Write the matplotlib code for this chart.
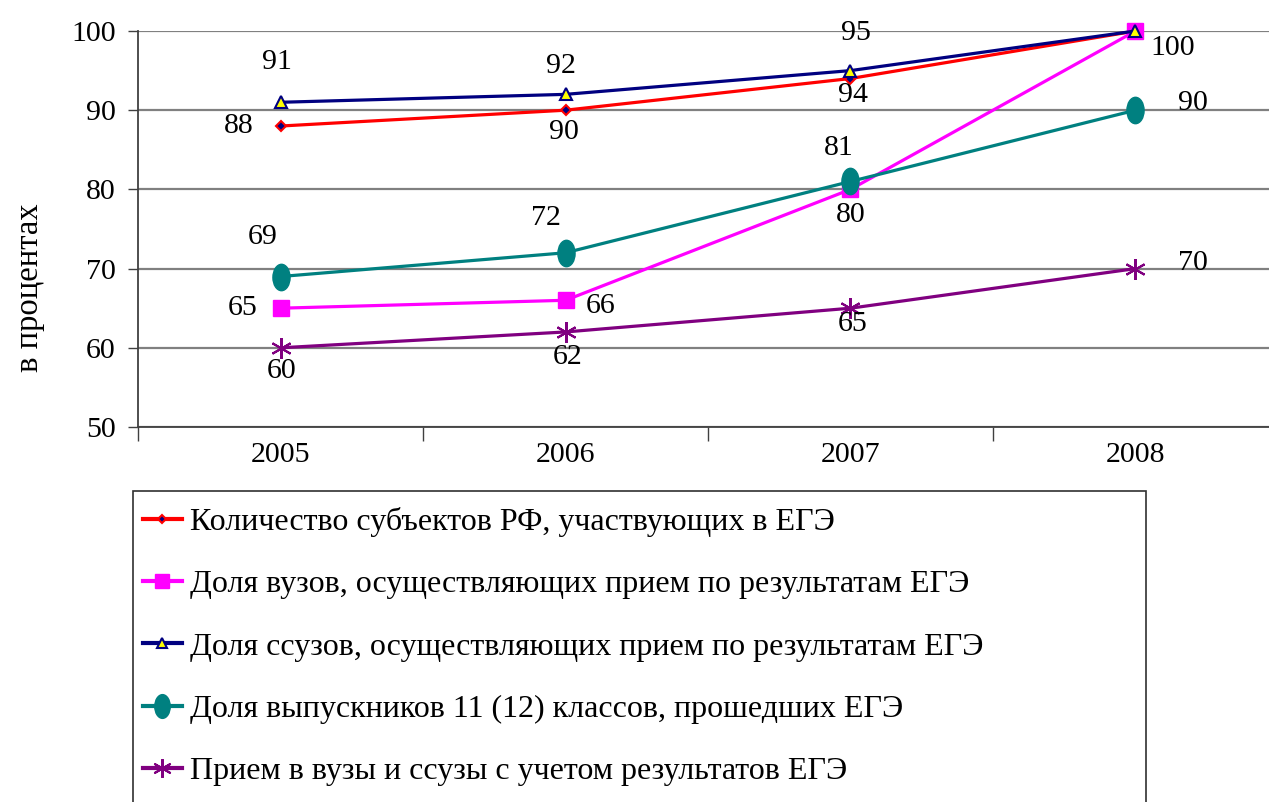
import matplotlib
matplotlib.use("Agg")
import matplotlib.pyplot as plt
from matplotlib.path import Path
from matplotlib.transforms import Affine2D
from matplotlib.patches import Rectangle
from matplotlib.lines import Line2D

plt.rcParams['font.family'] = ['Liberation Serif', 'DejaVu Serif']

years = ['2005', '2006', '2007', '2008']
subjects = [88, 90, 94, 100]
vuz = [65, 66, 80, 100]
ssuz = [91, 92, 95, 100]
graduates = [69, 72, 81, 90]
admission = [60, 62, 65, 70]

labels = ['Количество субъектов РФ, участвующих в ЕГЭ',
          'Доля вузов, осуществляющих прием по результатам ЕГЭ',
          'Доля ссузов, осуществляющих прием по результатам ЕГЭ',
          'Доля выпускников 11 (12) классов, прошедших ЕГЭ',
          'Прием в вузы и ссузы с учетом результатов ЕГЭ']

# offsets of the value labels (pixels) for each series
subj_off = [(-42, 0), (-2, -22), (3, -16), None]
vuz_off = [(-38, 0), (35, -6), (0, -26), (37, -17)]
ssuz_off = [(-4, 40), (-5, 28), (5, 38), None]
grad_off = [(-18, 40), (-20, 35), (-12, 33), (57, 7)]
adm_off = [(1, -23), (2, -25), (2, -16), (57, 6)]

ellipse = Affine2D().scale(0.65, 1.0).transform_path(Path.unit_circle())

series = [
    (subjects, dict(color='#FF0000', marker='D', markersize=5, markerfacecolor='#000080',
                    markeredgecolor='#FF0000', markeredgewidth=1.5), subj_off),
    (vuz, dict(color='#FF00FF', marker='s', markersize=11, markerfacecolor='#FF00FF',
               markeredgecolor='#FF00FF'), vuz_off),
    (ssuz, dict(color='#000080', marker='^', markersize=8, markerfacecolor='#FFFF00',
                markeredgecolor='#000080', markeredgewidth=1.5), ssuz_off),
    (graduates, dict(color='#008080', marker=ellipse, markersize=19, markerfacecolor='#008080',
                     markeredgecolor='#008080'), grad_off),
    (admission, dict(color='#800080', marker=(6, 2, 0), markersize=15,
                     markeredgecolor='#800080', markeredgewidth=1.5), adm_off),
]

fig = plt.figure(figsize=(12.69, 8.02), dpi=100)
W, H = 1269, 802
ax = fig.add_axes([138 / W, (H - 427) / H, (1278 - 138) / W, (427 - 31) / H])

x = list(range(len(years)))
for vals, style, offs in series:
    ax.plot(x, vals, linewidth=2.3, clip_on=False, zorder=3, **style)
    for xi, v, off in zip(x, vals, offs):
        if off is None:
            continue
        ax.annotate(str(v), (xi, v), xytext=off, textcoords='offset pixels',
                    ha='center', va='center', fontsize=21.5, zorder=5,
                    annotation_clip=False)

ax.set_xlim(-0.5, 3.5)
ax.set_ylim(50, 100)
ax.set_yticks([50, 60, 70, 80, 90, 100])
ax.tick_params(axis='y', labelsize=21.5, length=7, width=1, pad=9, color='#404040')
ax.yaxis.grid(True, color='#808080', linewidth=1.6)
ax.set_axisbelow(True)

ax.set_xticks([-0.5, 0.5, 1.5, 2.5, 3.5])
ax.set_xticklabels([])
ax.tick_params(axis='x', which='major', length=10, width=1, color='#404040')
ax.set_xticks(x, minor=True)
ax.set_xticklabels(years, minor=True)
ax.tick_params(axis='x', which='minor', length=0, labelsize=21.5, pad=11)

for side in ['top', 'right']:
    ax.spines[side].set_visible(False)
for side in ['left', 'bottom']:
    ax.spines[side].set_color('#404040')
    ax.spines[side].set_linewidth(1.3)

fig.text(30 / W, 1 - 288 / H, 'в процентах', rotation=90, ha='center', va='center',
         fontsize=23.5)

# legend
fig.patches.append(Rectangle((133 / W, -0.05), (1146 - 133) / W, 0.05 + (H - 491) / H,
                             transform=fig.transFigure, fill=False, edgecolor='#303030',
                             linewidth=1.2))
leg_handles = []
for vals, style, offs in series:
    st = dict(style)
    st['markersize'] = st['markersize'] * 0.9
    leg_handles.append(Line2D([], [], linewidth=3, **st))
fig.legend(leg_handles, labels, loc='upper left', bbox_to_anchor=(143 / W, 1 - 507 / H),
           frameon=False, fontsize=23, handlelength=1.22, handletextpad=0.25,
           labelspacing=1.03, borderaxespad=0, borderpad=0)

fig.savefig('out.png', dpi=100)
